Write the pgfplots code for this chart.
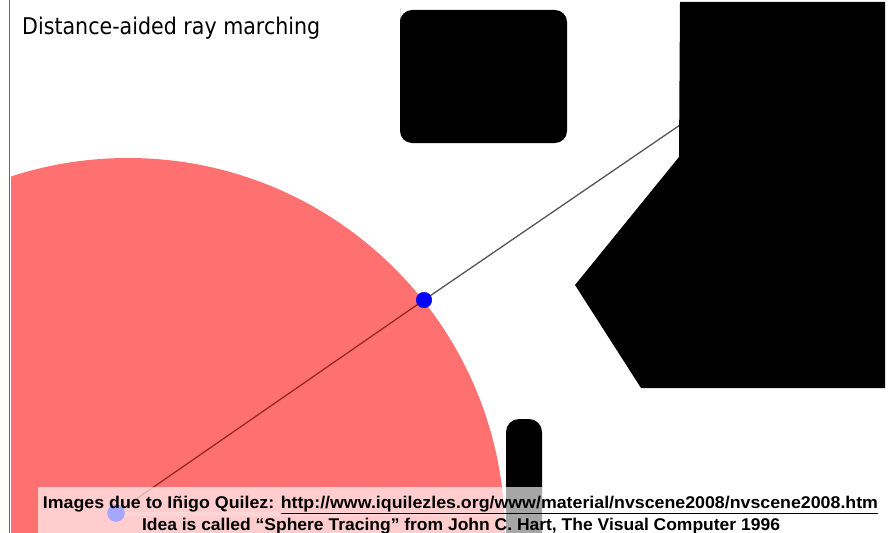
\documentclass[border=0pt]{standalone}
\usepackage{fontspec}
\setmainfont{Liberation Sans}
\newfontfamily\titlefont{DejaVu Sans}
\usepackage{graphicx}
\usepackage{pgfplots}
\pgfplotsset{compat=1.18}
\definecolor{circred}{RGB}{255,112,112}
\definecolor{rayin}{RGB}{150,40,40}
\definecolor{rayout}{RGB}{85,85,85}
\definecolor{stripe}{RGB}{255,140,140}
\definecolor{framegray}{RGB}{105,105,105}
\begin{document}
\begin{tikzpicture}
\begin{axis}[name=ax,
  scale only axis, width=894bp, height=533bp,
  xmin=0, xmax=894, ymin=0, ymax=533, y dir=reverse,
  hide axis, clip=true, clip mode=individual]
% red distance circle
\begin{scope}
\clip (axis cs:11,0) rectangle (axis cs:894,533);
\fill[circred] (axis cs:128,535) circle[radius=377];
\end{scope}
% faint stripe at ray origin
\addplot[stripe, line width=4bp, no marks] coordinates {(116,514) (503,514)};
% ray
\addplot[rayin, line width=1.3bp, no marks] coordinates {(116,513) (424,300)};
\addplot[rayout, line width=1.3bp, no marks] coordinates {(424,300) (680,125)};
% ray points
\addplot[only marks, mark=*, mark size=8.5bp, color=blue, mark options={draw=none,fill=blue}] coordinates {(116,513)};
\addplot[only marks, mark=*, mark size=7.8bp, color=blue, mark options={draw=none,fill=blue}] coordinates {(424,300)};
% black obstacles
\addplot[fill=black, draw=none, rounded corners=12bp] coordinates {(400,10) (567,10) (567,143) (400,143) (400,20)} -- cycle;
\addplot[fill=black, draw=none] coordinates {(680,2) (885,2) (885,388) (641,388) (575,285) (679,157)} -- cycle;
\addplot[fill=black, draw=none, rounded corners=13bp] coordinates {(506,560) (506,419) (542,419) (542,560)} -- cycle;
% left frame line
\addplot[framegray, line width=1.5bp, no marks] coordinates {(9.5,0) (9.5,533)};
% translucent caption box
\addplot[fill=white, fill opacity=0.65, draw=none] coordinates {(38,487) (894,487) (894,533) (38,533)} -- cycle;
% texts
\node[anchor=base west, inner sep=0pt] at (axis cs:22,35)
  {\titlefont\fontsize{23bp}{27bp}\selectfont\resizebox{298bp}{\height}{Distance-aided ray marching}};
\node[anchor=base, inner sep=0pt] at (axis cs:460.5,508)
  {\fontsize{17bp}{19bp}\selectfont\bfseries\resizebox{835bp}{\height}{Images due to Iñigo Quilez: \underline{http://www.iquilezles.org/www/material/nvscene2008/nvscene2008.htm}}};
\node[anchor=base, inner sep=0pt] at (axis cs:461,530)
  {\fontsize{17bp}{19bp}\selectfont\bfseries\resizebox{638bp}{\height}{Idea is called “Sphere Tracing” from John C. Hart, The Visual Computer 1996}};
\end{axis}
\pgfresetboundingbox
\path (ax.south west) rectangle (ax.north east);
\end{tikzpicture}
\end{document}
